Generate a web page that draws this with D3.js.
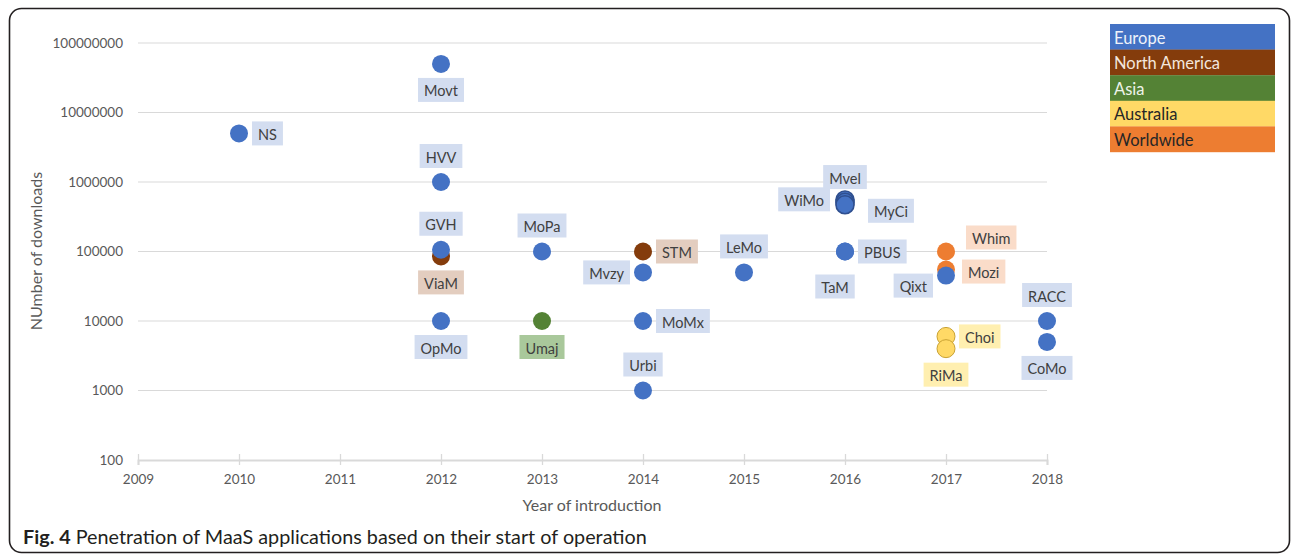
<!DOCTYPE html>
<html>
<head>
<meta charset="utf-8">
<script src="https://cdn.jsdelivr.net/npm/d3@7/dist/d3.min.js"></script>
<style>
  html, body { margin: 0; padding: 0; background: #fff; }
  svg { display: block; }
  text { font-family: Lato, "Noto Sans", sans-serif; }
</style>
</head>
<body>
<svg id="chart" width="1292" height="555"></svg>
<script>
// MaaS applications: year of introduction vs. number of downloads
const apps      = ["ViaM", "STM", "Umaj", "Whim", "Mozi", "Choi", "RiMa",
                   "NS", "Movt", "HVV", "GVH", "OpMo", "MoPa", "Mvzy", "MoMx", "Urbi",
                   "LeMo", "TaM", "PBUS", "Mvel", "WiMo", "MyCi", "Qixt", "RACC", "CoMo"];
const years     = [2012, 2014, 2013, 2017, 2017, 2017, 2017,
                   2010, 2012, 2012, 2012, 2012, 2013, 2014, 2014, 2014,
                   2015, 2016, 2016, 2016, 2016, 2016, 2017, 2018, 2018];
const downloads = [85000, 100000, 10000, 100000, 55000, 6000, 4000,
                   5000000, 50000000, 1000000, 106000, 10000, 100000, 50000, 10000, 1000,
                   50000, 100000, 100000, 550000, 510000, 470000, 45000, 10000, 5000];
const regions   = ["North America", "North America", "Asia", "Worldwide", "Worldwide", "Australia", "Australia",
                   "Europe", "Europe", "Europe", "Europe", "Europe", "Europe", "Europe", "Europe", "Europe",
                   "Europe", "Europe", "Europe", "Europe", "Europe", "Europe", "Europe", "Europe", "Europe"];

const regionNames = ["Europe", "North America", "Asia", "Australia", "Worldwide"];
const yTicks = [100, 1000, 10000, 100000, 1000000, 10000000, 100000000];
const xTicks = [2009, 2010, 2011, 2012, 2013, 2014, 2015, 2016, 2017, 2018];

// styling
const dotColor   = { "Europe": "#4472C4", "North America": "#843C0C", "Asia": "#548235", "Australia": "#FFD966", "Worldwide": "#ED7D31" };
const labelFill  = { "Europe": "#D3DDF0", "North America": "#E3CDBF", "Asia": "#A9C89B", "Australia": "#FFEFB0", "Worldwide": "#FADCC9" };
const legendText = { "Europe": "#EEF2FA", "North America": "#F3E6DD", "Asia": "#EEF4EA", "Australia": "#262626", "Worldwide": "#262626" };
const dotStroke  = { "Australia": "#C9A233" };
const outlined   = new Set(["Mvel", "WiMo", "MyCi"]);

// label placement around each marker: side, extra dx, extra dy
const labelPos = {
  NS: ["right"], Movt: ["below"], HVV: ["above"], GVH: ["above"], ViaM: ["below"],
  OpMo: ["below"], MoPa: ["above"], Umaj: ["below"], STM: ["right"], Mvzy: ["left"],
  MoMx: ["right"], Urbi: ["above"], LeMo: ["above"], Mvel: ["above", 0, 3],
  WiMo: ["left", -2, -3], MyCi: ["right", 10, 6], PBUS: ["right"], TaM: ["below", -10, 9],
  Whim: ["right", 7, -14], Mozi: ["right", 3, 2], Qixt: ["left", 0, 10], Choi: ["right"],
  RiMa: ["below"], RACC: ["above"], CoMo: ["below"]
};

const svg = d3.select("#chart");

// outer frame
svg.append("rect")
  .attr("x", 9.5).attr("y", 8.5).attr("width", 1280).attr("height", 544)
  .attr("rx", 12).attr("ry", 12)
  .attr("fill", "none").attr("stroke", "#231F20").attr("stroke-width", 1.6);

const x = d3.scaleLinear().domain([2009, 2018]).range([138, 1047]);
const y = d3.scaleLog().domain([100, 100000000]).range([460, 43]);

// horizontal gridlines
svg.append("g").selectAll("line").data(yTicks.slice(1)).join("line")
  .attr("x1", x(2009)).attr("x2", x(2018))
  .attr("y1", d => y(d)).attr("y2", d => y(d))
  .attr("stroke", "#D9D9D9").attr("stroke-width", 1.2);

// y axis labels
const yAxis = svg.append("g").attr("transform", `translate(${x(2009)},0)`)
  .call(d3.axisLeft(y).tickValues(yTicks).tickFormat(d3.format("d")).tickSize(0).tickPadding(15));
yAxis.select(".domain").remove();
yAxis.selectAll("text").attr("font-size", 13.5).attr("fill", "#595959")
  .attr("font-family", "Lato, sans-serif");

// x axis with crossing tick marks
const xAxis = svg.append("g").attr("transform", `translate(0,${y(100)})`)
  .call(d3.axisBottom(x).tickValues(xTicks).tickFormat(d3.format("d")).tickSize(5).tickPadding(9));
xAxis.select(".domain").attr("stroke", "#D9D9D9").attr("stroke-width", 2);
xAxis.selectAll(".tick line").attr("stroke", "#D9D9D9").attr("stroke-width", 1.3).attr("y1", -6);
xAxis.selectAll("text").attr("font-size", 13.5).attr("fill", "#595959")
  .attr("font-family", "Lato, sans-serif");

// axis titles
svg.append("text")
  .attr("x", 592).attr("y", 511).attr("text-anchor", "middle")
  .attr("font-size", 16).attr("fill", "#595959").text("Year of introduction");
svg.append("text")
  .attr("transform", `translate(42,251) rotate(-90)`).attr("text-anchor", "middle")
  .attr("font-size", 16).attr("fill", "#595959").text("NUmber of downloads");

// points
const pts = apps.map((name, i) => ({ name, year: years[i], value: downloads[i], region: regions[i] }));

svg.append("g").selectAll("circle").data(pts).join("circle")
  .attr("cx", d => x(d.year)).attr("cy", d => y(d.value)).attr("r", 9)
  .attr("fill", d => dotColor[d.region])
  .attr("stroke", d => outlined.has(d.name) ? "#2F4F8F" : (dotStroke[d.region] || "none"))
  .attr("stroke-width", d => outlined.has(d.name) ? 1.6 : 1);

// data labels
const lab = svg.append("g").selectAll("g").data(pts).join("g");
lab.each(function (d) {
  const g = d3.select(this);
  const t = g.append("text").attr("font-size", 14.5).attr("fill", "#404040")
    .attr("dominant-baseline", "central").attr("text-anchor", "middle").text(d.name);
  const w = t.node().getComputedTextLength() + 12, h = 24;
  const [side, ex = 0, ey = 0] = labelPos[d.name];
  const cx = x(d.year), cy = y(d.value);
  let bx, by;
  if (side === "above")      { bx = cx; by = cy - 26; }
  else if (side === "below") { bx = cx; by = cy + 26; }
  else if (side === "right") { bx = cx + 13 + w / 2; by = cy; }
  else                       { bx = cx - 13 - w / 2; by = cy; }
  bx += ex; by += ey;
  g.insert("rect", "text")
    .attr("x", bx - w / 2).attr("y", by - h / 2).attr("width", w).attr("height", h)
    .attr("fill", labelFill[d.region]);
  t.attr("x", bx).attr("y", by + 1);
});

// legend
const lg = svg.append("g").attr("transform", "translate(1110,24)");
lg.selectAll("rect").data(regionNames).join("rect")
  .attr("x", 0).attr("y", (d, i) => i * 25.6).attr("width", 165).attr("height", 25.8)
  .attr("fill", d => dotColor[d]);
lg.selectAll("text").data(regionNames).join("text")
  .attr("x", 4).attr("y", (d, i) => i * 25.6 + 13.5).attr("dominant-baseline", "central")
  .attr("font-size", 16.5).attr("fill", d => legendText[d]).text(d => d);

// caption
const cap = svg.append("text").attr("x", 23).attr("y", 544).attr("font-size", 19.8).attr("fill", "#231F20");
cap.append("tspan").attr("font-weight", "bold").text("Fig. 4");
cap.append("tspan").text(" Penetration of MaaS applications based on their start of operation");
</script>
</body>
</html>
